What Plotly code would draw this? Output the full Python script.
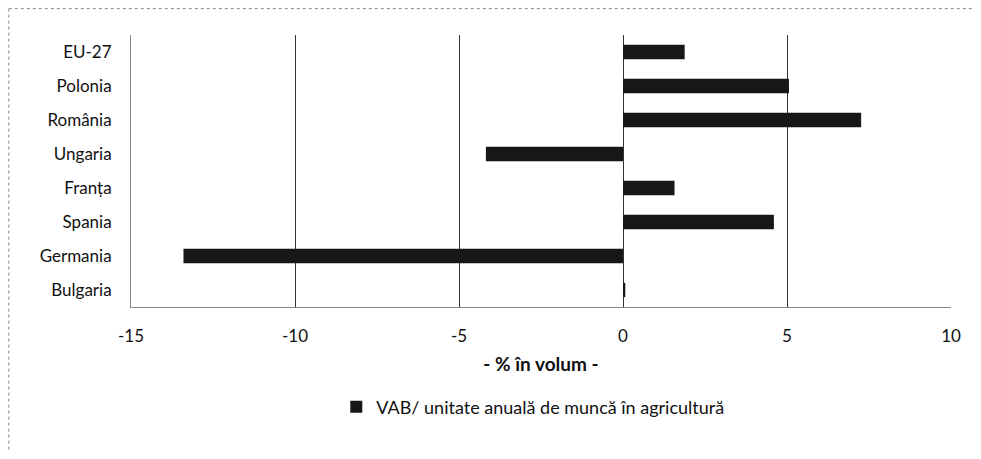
import plotly.graph_objects as go

categories = ["EU-27", "Polonia", "România", "Ungaria", "Franța", "Spania", "Germania", "Bulgaria"]
values = [1.88, 5.06, 7.26, -4.18, 1.57, 4.6, -13.4, 0.07]
series_name = "VAB/ unitate anuală de muncă în agricultură"
x_ticks = [-15, -10, -5, 0, 5, 10]

font_family = "Lato, Open Sans, sans-serif"

fig = go.Figure()
fig.add_trace(go.Bar(
    y=categories,
    x=values,
    orientation="h",
    name=series_name,
    marker=dict(color="#171717", line=dict(width=0)),
    width=0.42,
    showlegend=True,
))

fig.update_layout(
    width=965,
    height=443,
    margin=dict(l=123, r=20, t=27, b=144),
    paper_bgcolor="white",
    plot_bgcolor="white",
    font=dict(family=font_family, size=17, color="#111"),
    showlegend=True,
    legend=dict(
        orientation="h",
        x=0.49, xanchor="center",
        y=-0.368, yanchor="middle",
        font=dict(size=18, color="#111"),
        itemwidth=30,
    ),
    shapes=[
        dict(type="line", xref="paper", yref="paper", x0=-0.149, x1=1.05, y0=1.097, y1=1.097,
             line=dict(color="#888", width=1, dash="dot")),
        dict(type="line", xref="paper", yref="paper", x0=-0.149, x1=-0.149, y0=1.097, y1=-0.6,
             line=dict(color="#888", width=1, dash="dot")),
    ],
)

fig.update_xaxes(
    range=[-15, 10],
    tickvals=x_ticks,
    ticktext=[str(v) for v in x_ticks],
    showgrid=True,
    gridcolor="#333",
    gridwidth=1,
    zeroline=False,
    showline=True,
    linecolor="#888",
    linewidth=1,
    ticks="",
    ticklabelstandoff=14,
    tickfont=dict(size=17, color="#111"),
    title=dict(text="<b>- % în volum -</b>", font=dict(size=19, color="#111"), standoff=12),
)

fig.update_yaxes(
    categoryorder="array",
    categoryarray=categories[::-1],
    showgrid=False,
    zeroline=False,
    showline=True,
    linecolor="#888",
    linewidth=1,
    ticks="",
    ticklabelstandoff=15,
    tickfont=dict(size=17, color="#111"),
)

fig.write_html("out.html")
